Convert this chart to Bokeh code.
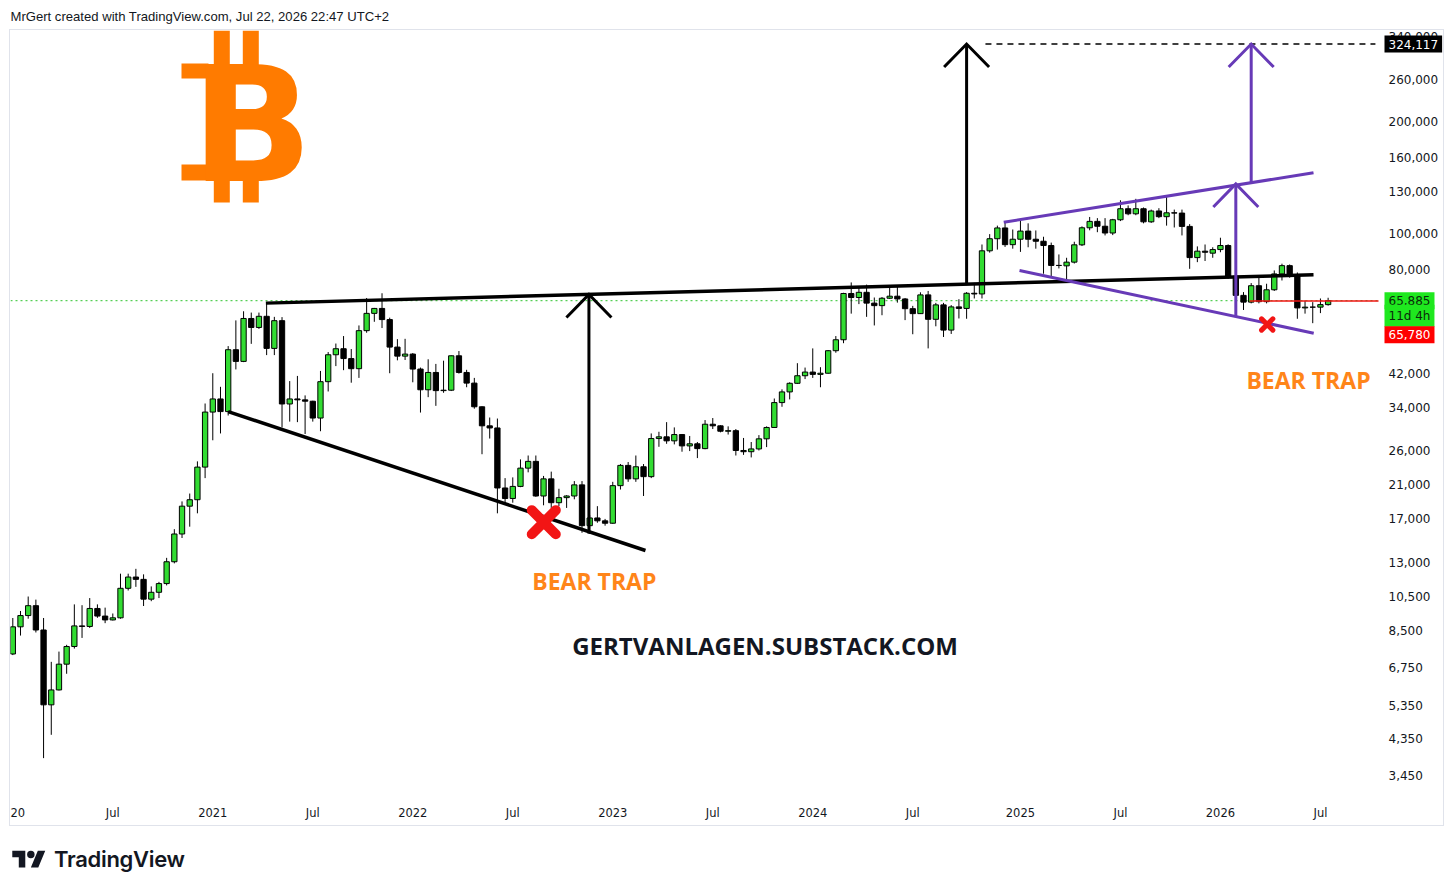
import math
import numpy as np
import pandas as pd
from bokeh.plotting import figure
from bokeh.models import (ColumnDataSource, Range1d, FixedTicker, NumeralTickFormatter,
                          Label, Div)
from bokeh.layouts import column
from bokeh.embed import file_html
from bokeh.resources import INLINE

# ---------------- data (2-week candles, BTC/USD) ----------------
first_bar = "2020-01-06"
bar_days = 14

opens = [7350, 8700, 9330, 9920, 8530, 5360, 5880, 6900, 7700, 8750, 8720, 9750, 9300, 9080,
         9200, 11050, 11850, 11680, 10330, 10780, 11380, 13030, 15480, 18400, 19150, 23450,
         33000, 35800, 33100, 48600, 45200, 59000, 55800, 59800, 49000, 58200, 34700, 35800,
         35600, 35300, 31800, 39850, 47100, 48900, 46000, 43200, 54700, 60900, 62800, 58600,
         49400, 46700, 47300, 43100, 37900, 42200, 37700, 37800, 46800, 42200, 39500, 34100,
         30300, 29900, 20600, 19300, 20800, 23300, 24300, 19600, 21800, 18800, 19400, 19600,
         21000, 16300, 17100, 16800, 16550, 20900, 23700, 21800, 23500, 22100, 28000, 28300,
         27600, 28700, 26750, 27100, 26300, 30600, 30300, 29300, 29400, 26000, 25800, 26250,
         27950, 29990, 35000, 37400, 39450, 41350, 42300, 41700, 42000, 48300, 51700, 68900,
         67200, 69400, 64900, 63900, 66900, 67750, 66600, 62700, 60800, 68300, 58700, 64200,
         54900, 63400, 62800, 69000, 68700, 89800, 96800, 103500, 93300, 96500, 101500, 96500,
         95300, 92800, 82000, 81800, 83700, 93200, 103600, 107800, 104600, 100300, 108900,
         116600, 113000, 116600, 107500, 115000, 111000, 113700, 113500, 104500, 86100, 89600,
         88500, 90500, 92800, 76700, 68100, 65300, 72300, 65500, 70500, 77800, 81900, 77500,
         63000, 63300, 63300, 64300]
highs = [9190, 9600, 10500, 10300, 9190, 7000, 7460, 7780, 10000, 9950, 10400, 10000, 9800, 9450,
         12100, 12100, 12470, 12050, 11180, 11500, 13350, 15950, 18950, 19900, 24300, 34800,
         42000, 38600, 49700, 58300, 61700, 61200, 61200, 64900, 59600, 59500, 40000, 41300,
         36600, 35400, 42600, 47900, 50500, 52900, 48800, 56500, 67000, 63000, 69000, 59300,
         51900, 52000, 47600, 43500, 45800, 44500, 45400, 46900, 48200, 42900, 40800, 34200,
         31900, 31700, 21900, 22000, 24600, 25200, 25200, 22200, 22800, 20500, 19700, 21500,
         21500, 17400, 18400, 17000, 21400, 23900, 24200, 25200, 23900, 28900, 29200, 31000,
         30000, 28800, 28450, 27400, 31400, 31800, 30400, 30200, 29700, 28100, 27400, 28600,
         30200, 35900, 38000, 39700, 44700, 43500, 49000, 43600, 48500, 52900, 69200, 73800,
         71800, 72800, 67200, 67400, 71900, 72000, 67000, 63800, 69400, 70000, 65000, 65000,
         64100, 66500, 69500, 73600, 93400, 99600, 105000, 108000, 102500, 108500, 106500,
         101900, 98000, 94500, 87800, 86000, 95000, 104500, 110800, 110000, 110000, 109500,
         122900, 119000, 124000, 117500, 116000, 117000, 125800, 116000, 116000, 106000, 92300,
         93400, 91800, 97400, 93500, 77500, 69500, 73500, 75900, 73200, 79500, 82900, 82500,
         78500, 65900, 65300, 66800, 67100]
lows = [7300, 8240, 9150, 8400, 3850, 4450, 5860, 6500, 7600, 8120, 8640, 9200, 8900, 9050,
        9150, 10900, 11150, 9900, 10200, 10400, 11250, 12900, 15100, 16200, 17600, 21900,
        27700, 28900, 32300, 43000, 45000, 50400, 55300, 47000, 47000, 30000, 31100, 31000,
        28800, 31100, 29300, 37500, 43900, 42800, 39600, 40800, 54000, 57800, 55600, 42000,
        45500, 45600, 39700, 32900, 36200, 34300, 37200, 37600, 41900, 38500, 33700, 25400,
        28000, 17600, 18600, 18800, 20700, 22700, 19500, 18500, 18200, 18400, 18200, 19200,
        15600, 15500, 16600, 16300, 16500, 20400, 21400, 21400, 19600, 21900, 26600, 27100,
        27000, 25800, 25900, 24800, 26200, 29700, 29100, 28700, 25200, 25300, 24900, 26000,
        26550, 29900, 34100, 35700, 39300, 40500, 40800, 38500, 41900, 47700, 50600, 60800,
        64500, 59600, 56500, 60200, 66600, 65100, 58400, 53500, 60700, 49000, 56200, 52600,
        53600, 59000, 58900, 66800, 66800, 88800, 90500, 92000, 91000, 89200, 91800, 91000,
        77900, 76300, 80500, 74000, 83000, 92500, 102000, 100800, 98800, 99000, 108000,
        112000, 112000, 106500, 106800, 110000, 105000, 103800, 98800, 80300, 83700, 84300,
        86000, 89000, 75500, 60500, 62200, 64800, 64800, 64800, 70000, 74700, 76000, 58900,
        60800, 57300, 61000, 63900]
closes = [8700, 9330, 9920, 8530, 5360, 5880, 6900, 7700, 8750, 8720, 9750, 9300, 9080, 9200,
          11050, 11850, 11680, 10330, 10780, 11380, 13030, 15480, 18400, 19150, 23450, 33000,
          35800, 33100, 48600, 45200, 59000, 55800, 59800, 49000, 58200, 34700, 35800, 35600,
          35300, 31800, 39850, 47100, 48900, 46000, 43200, 54700, 60900, 62800, 58600, 49400,
          46700, 47300, 43100, 37900, 42200, 37700, 37800, 46800, 42200, 39500, 34100, 30300,
          29900, 20600, 19300, 20800, 23300, 24300, 19600, 21800, 18800, 19400, 19600, 21000,
          16300, 17100, 16800, 16550, 20900, 23700, 21800, 23500, 22100, 28000, 28300, 27600,
          28700, 26750, 27100, 26300, 30600, 30300, 29300, 29400, 26000, 25800, 26250, 27950,
          29990, 35000, 37400, 39450, 41350, 42300, 41700, 42000, 48300, 51700, 68900, 67200,
          69400, 64900, 63900, 66900, 67750, 66600, 62700, 60800, 68300, 58700, 64200, 54900,
          63400, 62800, 69000, 68700, 89800, 96800, 103500, 93300, 96500, 101500, 96500, 95300,
          92800, 82000, 82000, 83700, 93200, 103600, 107800, 104600, 100300, 108900, 116600,
          113000, 116600, 107500, 115000, 111000, 113700, 113500, 104500, 86100, 89600, 89000,
          90500, 92800, 76700, 68100, 65300, 72300, 65500, 70500, 77800, 81900, 77500, 63000,
          63300, 63300, 64300, 65885]

y_ticks = [3450, 4350, 5350, 6750, 8500, 10500, 13000, 17000, 21000, 26000, 34000, 42000,
           80000, 100000, 130000, 160000, 200000, 260000, 340000]
x_tick_dates = ["2020-01-01", "2020-07-01", "2021-01-01", "2021-07-01", "2022-01-01",
                "2022-07-01", "2023-01-01", "2023-07-01", "2024-01-01", "2024-07-01",
                "2025-01-01", "2025-07-01", "2026-01-01", "2026-07-01"]
x_tick_labels = ["20", "Jul", "2021", "Jul", "2022", "Jul", "2023", "Jul", "2024", "Jul",
                 "2025", "Jul", "2026", "Jul"]

last_price = 65885
countdown = "11d 4h"
red_line_price = 65780
target_price = 324117

# drawings: x in bar index, y in price
triangle_top_x = [32.9, 169.1]
triangle_top_y = [64900, 77360]
triangle_bottom_x = [28.0, 82.25]
triangle_bottom_y = [33100, 13970]
channel_top_x = [128.83, 169.1]
channel_top_y = [107270, 145800]
channel_bottom_x = [130.88, 169.13]
channel_bottom_y = [79470, 53850]
black_arrow_x = [74.9, 124.0]
black_arrow_from = [15520, 72600]
black_arrow_to = [68500, target_price]
purple_arrow_x = [159.0, 161.0]
purple_arrow_from = [59500, 137000]
purple_arrow_to = [136000, target_price]
target_line_start = 126.45
red_line_start = 160.8
cross_x = [69.03, 163.08]
cross_y = [16660, 56850]
bear_trap_x = [75.6, 168.45]
bear_trap_y = [11530, 40150]
site_x, site_y = 97.8, 7750

# ---------------- geometry ----------------
X0, SCALE_X = -0.3, 177.55          # visible bar span up to the price scale
Y0, Y1 = 3053, 352600
W, H = 1435, 797
MB_L, MB_R, MB_T, MB_B = 0, 1, 0, 32
PLOT_W = 1368                        # width of the candle area (left of price scale)
frame_w = W - MB_L - MB_R
frame_h = H - MB_T - MB_B
ppb = PLOT_W / (SCALE_X - X0)
X1 = X0 + frame_w / ppb
ppd = frame_h / (math.log10(Y1) - math.log10(Y0))

def dx(px):       # frame pixel -> bar units
    return X0 + px / ppb
def dy(py):       # frame pixel from top -> price
    return 10 ** (math.log10(Y1) - py / ppd)

GREEN = "#32dc32"
PURPLE = "#673ab7"
ORANGE = "#ff8519"
RED = "#f21515"
LOGO = "#ff7b00"

p = figure(width=W, height=H, x_range=Range1d(X0, X1), y_range=Range1d(Y0, Y1),
           y_axis_type="log", y_axis_location="right", output_backend="svg",
           toolbar_location=None, min_border_left=MB_L, min_border_right=MB_R,
           min_border_top=MB_T, min_border_bottom=MB_B, outline_line_color=None,
           background_fill_color="white", border_fill_color="white")
p.styles = {"border": "1px solid #e0e3eb"}
p.grid.grid_line_color = None

ya = p.yaxis[0]
ya.ticker = FixedTicker(ticks=y_ticks)
ya.formatter = NumeralTickFormatter(format="0,0")
xa = p.xaxis[0]
t0 = pd.Timestamp(first_bar)
x_tick_pos = [int(math.ceil((pd.Timestamp(d) - t0).days / bar_days)) for d in x_tick_dates]
xa.ticker = FixedTicker(ticks=x_tick_pos)
xa.major_label_overrides = {k: lab for k, lab in zip(x_tick_pos, x_tick_labels)}
for ax in (xa, ya):
    ax.axis_line_color = None
    ax.major_tick_line_color = None
    ax.minor_tick_line_color = None
    ax.major_tick_out = 0
    ax.major_tick_in = 0
    ax.major_label_text_font = "DejaVu Sans"
    ax.major_label_text_color = "#131722"
xa.major_label_standoff = 10
ya.major_label_standoff = -(frame_w - PLOT_W - 10)   # labels sit inside the price-scale strip
ya.major_label_text_font_size = "12px"
xa.major_label_text_font_size = "11.5px"

# current price dotted line
p.segment(x0=[X0], y0=[last_price], x1=[SCALE_X], y1=[last_price], line_color="#2fc42f",
          line_dash="2 3", line_width=1)

# candles
n = len(opens)
idx = np.arange(n)
o = np.array(opens, float); c = np.array(closes, float)
src = ColumnDataSource(dict(x=idx, h=highs, l=lows,
                            top=np.maximum(o, c), bottom=np.minimum(o, c),
                            fill=[GREEN if cc > oo else "black" for oo, cc in zip(o, c)]))
p.segment(x0="x", y0="l", x1="x", y1="h", source=src, line_color="black", line_width=1)
p.vbar(x="x", width=0.69, top="top", bottom="bottom", source=src, fill_color="fill",
       line_color="black", line_width=1)

# trend lines
p.line(triangle_top_x, triangle_top_y, line_color="black", line_width=3.5)
p.line(triangle_bottom_x, triangle_bottom_y, line_color="black", line_width=3.5)
p.line(channel_top_x, channel_top_y, line_color=PURPLE, line_width=3)
p.line(channel_bottom_x, channel_bottom_y, line_color=PURPLE, line_width=3)

# target dashed line and red line (to the price scale)
p.segment(x0=[target_line_start], y0=[target_price], x1=[SCALE_X - 0.4], y1=[target_price],
          line_color="black", line_width=1.5, line_dash="6 5")
p.segment(x0=[red_line_start], y0=[red_line_price], x1=[SCALE_X], y1=[red_line_price],
          line_color=RED, line_width=1.5)

# arrows
hdx = 22.5 / ppb
hf = 10 ** (23 / ppd)
def arrows(xs, y_from, y_to, color, width):
    mx, my = [], []
    for x, a, b in zip(xs, y_from, y_to):
        mx.append([x, x]); my.append([a, b])
        mx.append([x - hdx, x, x + hdx]); my.append([b / hf, b, b / hf])
    p.multi_line(mx, my, line_color=color, line_width=width, line_join="miter")
arrows(black_arrow_x, black_arrow_from, black_arrow_to, "black", 3)
arrows(purple_arrow_x, purple_arrow_from, purple_arrow_to, PURPLE, 3)

# red crosses
p.scatter(cross_x, cross_y, marker="x", size=[34, 16], line_color=RED,
          line_width=[10, 5], line_cap="round")

# texts
for bx, by in zip(bear_trap_x, bear_trap_y):
    p.add_layout(Label(x=bx, y=by, text="BEAR TRAP", text_align="center",
                       text_baseline="middle", text_font="Open Sans",
                       text_font_style="bold", text_font_size="23px", text_color=ORANGE))
p.add_layout(Label(x=site_x, y=site_y, text="GERTVANLAGEN.SUBSTACK.COM", text_align="center",
                   text_baseline="middle", text_font="Open Sans", text_font_style="bold",
                   text_font_size="24px", text_color="#131722"))

# bitcoin logo: bold B with serifs and two bars above and below (frame pixel layout)
p.add_layout(Label(x=dx(241.5), y=dy(94.5), text="B", text_align="center",
                   text_baseline="alphabetic", text_font="DejaVu Sans", text_font_style="bold",
                   text_font_size="160px", text_color=LOGO))
bar_l = [203.3, 232.3, 203.3, 232.3, 171, 171]
bar_r = [219.3, 248.3, 219.3, 248.3, 198, 198]
bar_t = [0, 0, 148, 148, 33, 134]
bar_b = [36, 36, 172, 172, 48, 150]
p.quad(left=[dx(v) for v in bar_l], right=[dx(v) for v in bar_r],
       top=[dy(v) for v in bar_t], bottom=[dy(v) for v in bar_b],
       fill_color=LOGO, line_color=None)

# price tags on the scale
tag_x = SCALE_X + 6 / ppb
def tag(y, text, bg, fg):
    lb = Label(x=tag_x, y=y, text=text, text_align="left", text_baseline="middle",
               text_font="DejaVu Sans", text_font_size="12px", text_color=fg,
               background_fill_color=bg)
    try:
        lb.padding = 4
    except Exception:
        pass
    p.add_layout(lb)
tag(target_price, f"{target_price:,}", "black", "white")
tag(last_price, f"{last_price:,}", "#1fe81f", "#0b2a0b")
tag(last_price * 10 ** (-15 / ppd), countdown, "#1fe81f", "#0b2a0b")
tag(last_price * 10 ** (-34 / ppd), f"{red_line_price:,}", "#ff0000", "white")

header = Div(text='<div style="font-family:\'Liberation Sans\';font-size:13.1px;color:#131722;'
                  'line-height:18px;padding-left:1.5px;white-space:nowrap">'
                  'MrGert created with TradingView.com, Jul 22, 2026 22:47 UTC+2</div>',
             width=1437, height=21, margin=(0, 0, 0, 0))
logo_svg = ('<svg width="34" height="26" viewBox="0 0 36 28" fill="#131722">'
            '<path d="M14 22H7V11H0V4h14v18zM28 22h-8l7.5-18h8L28 22z"/>'
            '<circle cx="20" cy="8" r="4"/></svg>')
footer = Div(text='<div style="display:flex;align-items:center;padding-top:18px;padding-left:3px">'
                  + logo_svg +
                  '<span style="font-family:Inter;font-weight:600;font-size:22px;color:#131722;'
                  'margin-left:8px;letter-spacing:-0.3px">TradingView</span></div>',
             width=1437, height=48, margin=(0, 0, 0, 0))

layout = column(header, p, footer, spacing=0, margin=(8, 0, 0, 9))
open("out.html", "w").write(file_html(layout, INLINE))
